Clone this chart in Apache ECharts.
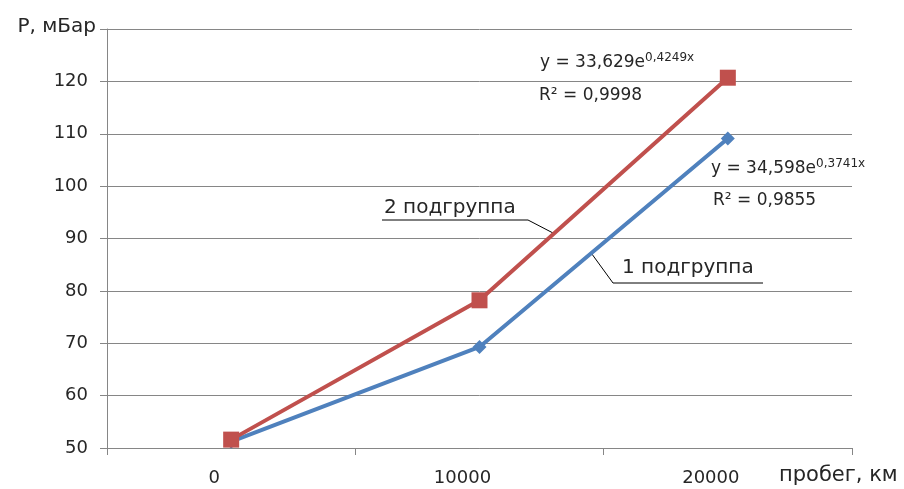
<!DOCTYPE html>
<html><head><meta charset="utf-8">
<script src="https://cdn.jsdelivr.net/npm/echarts@6/dist/echarts.min.js"></script>
<style>html,body{margin:0;padding:0;background:#fff}#c{width:904px;height:489px}</style>
</head><body><div id="c"></div>
<script>
const categories = ['0', '10000', '20000'];
const group1 = [51.2, 69.3, 109.1];
const group2 = [51.6, 78.2, 120.7];
const yTicks = [50, 60, 70, 80, 90, 100, 110, 120, 130];
const yTitle = 'P, мБар';
const xTitle = 'пробег, км';
const names = ['1 подгруппа', '2 подгруппа'];
const trend1 = ['34,598', '0,3741x', '0,9855'];
const trend2 = ['33,629', '0,4249x', '0,9998'];

const FONT = '"DejaVu Sans", "Noto Sans", sans-serif';
const TXT = '#262626';
const chart = echarts.init(document.getElementById('c'));
chart.setOption({
  animation: false,
  grid: {left: 107, right: 52, top: 29, bottom: 41, containLabel: false},
  xAxis: {
    type: 'category', data: categories, boundaryGap: true,
    axisLine: {lineStyle: {color: '#868686', width: 1}},
    axisTick: {show: true, length: 7, lineStyle: {color: '#868686'}},
    axisLabel: {color: TXT, fontFamily: FONT, fontSize: 18, margin: 21, padding: [0, 34, 0, 0]},
    splitLine: {show: false}
  },
  yAxis: {
    type: 'value', min: yTicks[0], max: yTicks[yTicks.length - 1], interval: 10,
    axisLine: {show: true, lineStyle: {color: '#868686', width: 1}},
    axisTick: {show: true, length: 7, lineStyle: {color: '#868686'}},
    axisLabel: {color: TXT, fontFamily: FONT, fontSize: 18, margin: 19,
      formatter: v => v === yTicks[yTicks.length - 1] ? '' : String(v)},
    splitLine: {show: true, lineStyle: {color: '#868686', width: 1}}
  },
  series: [
    {name: names[0], type: 'line', data: group1, symbol: 'diamond', symbolSize: 14,
     lineStyle: {color: '#4F81BD', width: 4}, itemStyle: {color: '#4F81BD'}, z: 3},
    {name: names[1], type: 'line', data: group2, symbol: 'rect', symbolSize: 16,
     lineStyle: {color: '#C0504D', width: 4}, itemStyle: {color: '#C0504D'}, z: 4}
  ]
});

function px(i, v) { return chart.convertToPixel({gridIndex: 0}, [i, v]); }
function along(i0, d, t) {
  const a = px(i0, d[i0]), b = px(i0 + 1, d[i0 + 1]);
  return [a[0] + (b[0] - a[0]) * t, a[1] + (b[1] - a[1]) * t];
}
const a2 = along(1, group2, 0.3);
const a1 = along(1, group1, 0.45);
const topY = px(0, yTicks[yTicks.length - 1])[1];
const ts = (text, size, extra) => Object.assign({text: text, fill: TXT, font: size + 'px ' + FONT}, extra || {});
const rich = {
  n: {fontSize: 17, fontFamily: FONT, color: TXT},
  s: {fontSize: 12, fontFamily: FONT, color: TXT, verticalAlign: 'top', padding: [0, 0, 10, 0]}
};
chart.setOption({
  graphic: [
    {type: 'text', x: 96, y: topY - 2, style: ts(yTitle, 20, {align: 'right', verticalAlign: 'middle'})},
    {type: 'text', x: 779, y: 476, style: ts(xTitle, 21, {verticalAlign: 'middle'})},
    {type: 'text', x: 384, y: 208, style: ts(names[1], 20, {verticalAlign: 'middle'})},
    {type: 'polyline', shape: {points: [[382, 220], [528, 220], a2]}, style: {stroke: '#000', lineWidth: 1, fill: null}},
    {type: 'text', x: 622, y: 268, style: ts(names[0], 20, {verticalAlign: 'middle'})},
    {type: 'polyline', shape: {points: [a1, [613, 283], [763, 283]]}, style: {stroke: '#000', lineWidth: 1, fill: null}},
    {type: 'text', x: 540, y: 52, style: {text: '{n|y = ' + trend2[0] + 'e}{s|' + trend2[1] + '}', rich: rich, fill: TXT}},
    {type: 'text', x: 539, y: 87, style: {text: '{n|R² = ' + trend2[2] + '}', rich: rich, fill: TXT}},
    {type: 'text', x: 711, y: 158, style: {text: '{n|y = ' + trend1[0] + 'e}{s|' + trend1[1] + '}', rich: rich, fill: TXT}},
    {type: 'text', x: 713, y: 192, style: {text: '{n|R² = ' + trend1[2] + '}', rich: rich, fill: TXT}}
  ]
});
</script></body></html>
